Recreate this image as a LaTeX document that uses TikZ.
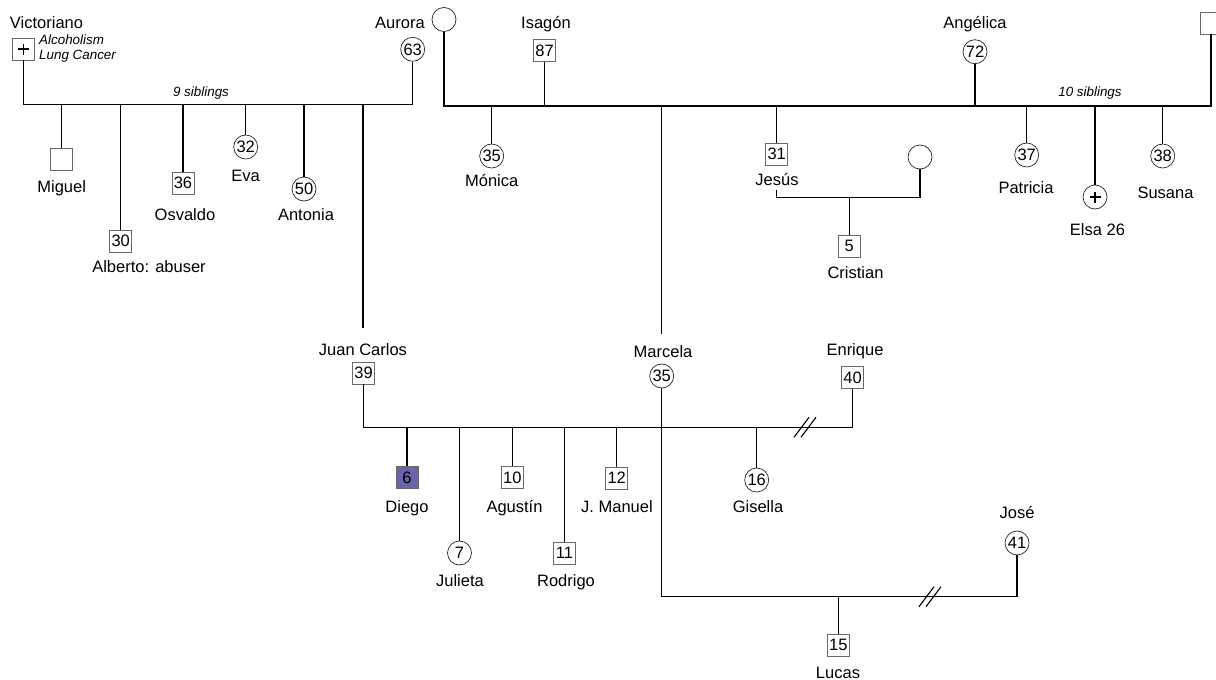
\documentclass[tikz,border=0pt]{standalone}
\usepackage{fontspec}
\setmainfont{Liberation Sans}
\usepackage{tikz}
\definecolor{idx}{RGB}{106,100,172}
\definecolor{boxline}{RGB}{105,105,105}
\tikzstyle{person}=[inner sep=0pt, font=\fontsize{16.5}{18}\selectfont, text height=11.8pt, text depth=0pt]
\tikzstyle{male}=[person, draw=boxline, line width=0.8pt, minimum size=22pt]
\tikzstyle{female}=[person, circle, draw=black!85, line width=0.7pt, minimum size=24pt]
\tikzstyle{dead}=[path picture={\draw[draw=black, line width=1.4pt] (path picture bounding box.center) +(-5.5pt,0) -- +(5.5pt,0) +(0,-5.5pt) -- +(0,5.5pt);}]
\tikzstyle{pname}=[person]
\tikzstyle{sibnote}=[inner sep=0pt, font=\fontsize{13.4}{15}\selectfont\itshape, text height=9.6pt, text depth=0pt]
\tikzstyle{rel}=[line width=1.1pt]

\begin{document}
\begin{tikzpicture}[x=1pt,y=-1pt]
        \clip (0,0) rectangle (1216,680);
        % father's side
        \node[pname] (VicN) at (46.5,23) {Victoriano};
        \node[male, dead] (Vic) at (23.5,49) {};
        \node[sibnote, anchor=west] (VicD1) at (39,40) {Alcoholism};
        \node[sibnote, anchor=west] (VicD2) at (39,55) {Lung Cancer};
        \node[pname] (AurN) at (400,23) {Aurora};
        \node[female] (Aur) at (412.7,49.3) {63};
        \coordinate (S1) at (0,104.3);
        \node[sibnote] (S1N) at (201,92) {9 siblings};
        \draw[rel] (Vic) -- (Vic |- S1) -- (Aur |- S1) -- (Aur);
        \node[male] (Mig) at (61.7,159.5) {};
        \node[pname] (MigN) at (61.7,187) {Miguel};
        \node[male] (Alb) at (120.7,241) {30};
        \node[pname] (AlbN) at (149,267) {Alberto: abuser};
        \node[male] (Osv) at (183,183) {36};
        \node[pname] (OsvN) at (185,215) {Osvaldo};
        \node[female] (Eva) at (245.7,147) {32};
        \node[pname] (EvaN) at (245.7,176) {Eva};
        \node[female] (Ant) at (304,189) {50};
        \node[pname] (AntN) at (306,215) {Antonia};
        \foreach \c in {Mig,Alb,Osv,Eva,Ant}
            \draw[rel] (\c) -- (\c |- S1);
        \coordinate (JCtop) at (363,328);
        \draw[rel] (JCtop |- S1) -- (JCtop);
        % mother's side
        \node[female] (Gm) at (444,19.5) {};
        \node[pname] (IsaN) at (546,23) {Isagón};
        \node[male] (Isa) at (544.5,50.5) {87};
        \node[pname] (AngN) at (975,23) {Angélica};
        \node[female] (Ang) at (975,51.7) {72};
        \node[male] (Gf) at (1211,23) {};
        \coordinate (S2) at (0,106);
        \node[sibnote] (S2N) at (1090,92) {10 siblings};
        \draw[rel] (Gm) -- (Gm |- S2) -- (Gf |- S2) -- (Gf);
        \draw[rel] (Isa) -- (Isa |- S2);
        \draw[rel] (Ang) -- (Ang |- S2);
        \node[female] (Mon) at (491.7,156) {35};
        \node[pname] (MonN) at (491.7,181) {Mónica};
        \node[male] (Jes) at (776.7,154) {31};
        \node[pname] (JesN) at (777,180) {Jesús};
        \node[female] (Pat) at (1026.7,155) {37};
        \node[pname] (PatN) at (1026,188) {Patricia};
        \node[female, dead] (Els) at (1095,197) {};
        \node[pname] (ElsN) at (1097.5,230) {Elsa 26};
        \node[female] (Sus) at (1162.7,156) {38};
        \node[pname] (SusN) at (1165.5,193) {Susana};
        \foreach \c in {Mon,Jes,Pat,Els,Sus}
            \draw[rel] (\c) -- (\c |- S2);
        \coordinate (MaTop) at (661.7,334);
        \draw[rel] (MaTop |- S2) -- (MaTop);
        \node[female] (JesW) at (920,157) {};
        \coordinate (JesB) at (776.7,190);
        \coordinate (S3) at (0,197.3);
        \draw[rel] (JesB) -- (JesB |- S3) -- (JesW |- S3) -- (JesW);
        \node[male] (Cri) at (849.3,246) {5};
        \node[pname] (CriN) at (855.5,273) {Cristian};
        \draw[rel] (Cri) -- (Cri |- S3);
        % parents
        \node[pname] (JCN) at (363,350) {Juan Carlos};
        \node[male] (JC) at (363.5,373) {39};
        \node[pname] (MaN) at (663,352) {Marcela};
        \node[female] (Ma) at (661.7,376) {35};
        \node[pname] (EnN) at (855,350) {Enrique};
        \node[male] (En) at (852.5,377.5) {40};
        \coordinate (S4) at (0,427.3);
        \draw[rel] (JC) -- (JC |- S4) -- (En |- S4) -- (En);
        \coordinate (Div1) at (805,427.3);
        \draw[rel] (Div1) +(-11,10) -- +(4,-10) +(-4,10) -- +(11,-10);
        \node[male, fill=idx] (Die) at (407,477.5) {6};
        \node[pname] (DieN) at (407,507) {Diego};
        \node[female] (Jul) at (459.5,553) {7};
        \node[pname] (JulN) at (460,581) {Julieta};
        \node[male] (Agu) at (512.3,477.5) {10};
        \node[pname] (AguN) at (514.5,507) {Agustín};
        \node[male] (Rod) at (564.5,553) {11};
        \node[pname] (RodN) at (566,581) {Rodrigo};
        \node[male] (JMa) at (616.7,478) {12};
        \node[pname] (JMaN) at (617,507) {J. Manuel};
        \node[female] (Gis) at (756.7,480) {16};
        \node[pname] (GisN) at (758,507) {Gisella};
        \foreach \c in {Die,Jul,Agu,Rod,JMa,Gis}
            \draw[rel] (\c) -- (\c |- S4);
        % second union
        \node[pname] (JoN) at (1017,513) {José};
        \node[female] (Jo) at (1017,543) {41};
        \coordinate (S5) at (0,596.7);
        \draw[rel] (Ma) -- (Ma |- S5) -- (Jo |- S5) -- (Jo);
        \coordinate (Div2) at (930,596.7);
        \draw[rel] (Div2) +(-11,10) -- +(4,-10) +(-4,10) -- +(11,-10);
        \node[male] (Luc) at (838.3,645) {15};
        \node[pname] (LucN) at (838,673) {Lucas};
        \draw[rel] (Luc) -- (Luc |- S5);
    \end{tikzpicture}
\end{document}
